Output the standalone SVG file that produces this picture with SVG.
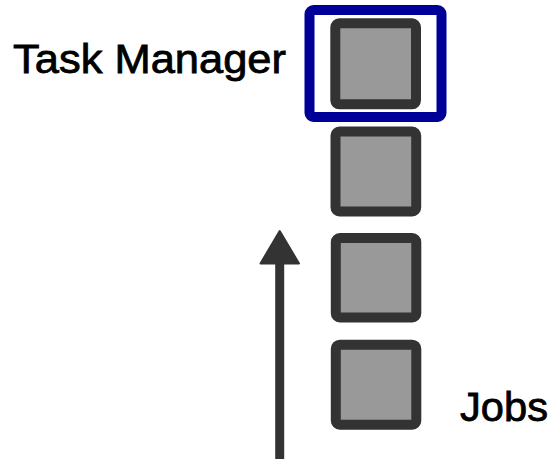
<svg xmlns="http://www.w3.org/2000/svg" width="555" height="459" viewBox="0 0 555 459">
<style>
.job{fill:#999999;stroke:#333333;stroke-width:10}
.tm{fill:none;stroke:#000099;stroke-width:10}
.lbl{font-family:"Liberation Sans",Arial,sans-serif;font-size:41px;fill:#000000;stroke:#000000;stroke-width:0.8}
.conn{stroke:#333333;stroke-width:9;fill:none}
.head{fill:#333333;stroke:#333333;stroke-width:2;stroke-linejoin:round}
</style>
<g id="task-manager">
<rect class="tm" x="309.5" y="10" width="132" height="107" rx="4"/>
<text class="lbl" x="13" y="72.5" textLength="273" lengthAdjust="spacingAndGlyphs">Task Manager</text>
</g>
<g id="job1"><rect class="job" x="335.3" y="23.3" width="80.7" height="81" rx="4"/></g>
<g id="job2"><rect class="job" x="335.5" y="131.5" width="80.7" height="80" rx="4"/></g>
<g id="job3"><rect class="job" x="335.8" y="238" width="80.5" height="79.5" rx="4"/></g>
<g id="job4"><rect class="job" x="335.8" y="344.7" width="80.5" height="80" rx="4"/></g>
<g id="jobs-label"><text class="lbl" x="460" y="421" textLength="88" lengthAdjust="spacingAndGlyphs">Jobs</text></g>
<g id="connectors">
<line class="conn" x1="279.7" y1="459" x2="279.7" y2="262"/>
<path class="head" d="M279.7,231 L299,263.5 L260.5,263.5 Z"/>
</g>
</svg>
